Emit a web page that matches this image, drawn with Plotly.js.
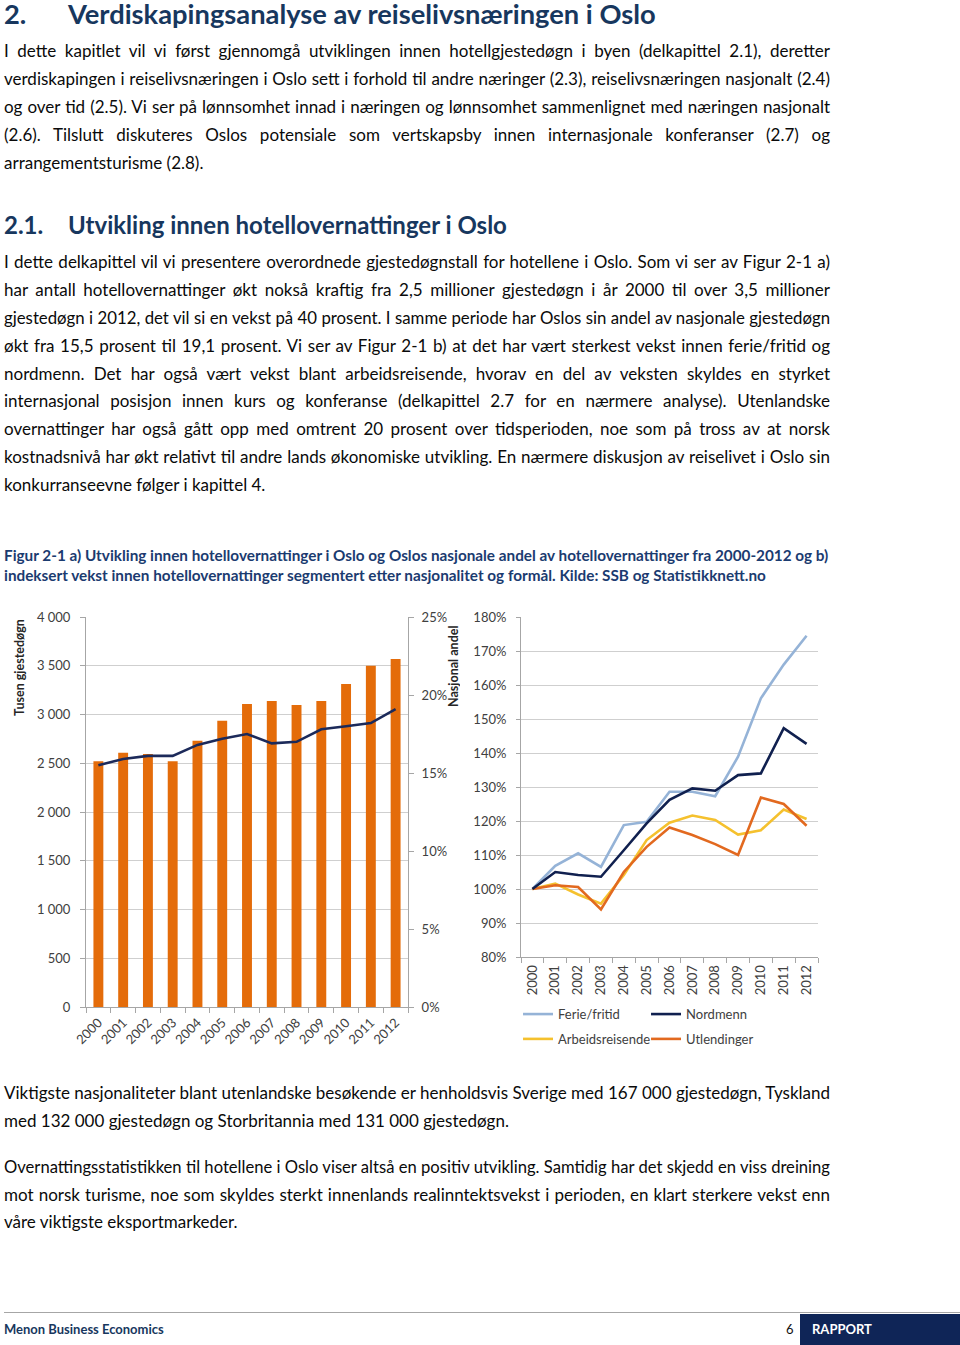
<!DOCTYPE html>
<html><head><meta charset="utf-8">
<script src="https://cdn.plot.ly/plotly-3.0.1.min.js"></script>
<style>
body{margin:0;background:#fff;}
#page{position:relative;width:960px;height:1345px;overflow:hidden;font-family:Lato,"Open Sans",sans-serif;color:#0a0a0a;background:#fff;}
.l{position:absolute;left:4px;width:826px;font-size:17px;line-height:28px;height:28px;text-align:justify;text-align-last:justify;}
.n{text-align-last:left;white-space:nowrap;}
.h1{position:absolute;left:4px;top:0;width:900px;height:28px;font-size:27.3px;font-weight:bold;color:#17375E;line-height:28px;}
.h2{position:absolute;left:4px;width:900px;height:28px;font-size:24px;font-weight:bold;color:#17375E;line-height:28px;}
.cap{position:absolute;left:4px;font-size:15.3px;font-weight:bold;color:#1B3B70;line-height:20px;white-space:nowrap;}
#chartA{position:absolute;left:0;top:600px;width:470px;height:460px;}
#chartB{position:absolute;left:460px;top:600px;width:360px;height:470px;}
.foot{position:absolute;font-size:13px;font-weight:bold;line-height:16px;}
</style></head>
<body><div id="page">
<div class="h1"><span style="position:absolute;left:0">2.</span><span style="position:absolute;left:64px;white-space:nowrap">Verdiskapingsanalyse av reiselivsnæringen i Oslo</span></div>

<div class="l" style="top:37px">I dette kapitlet vil vi først gjennomgå utviklingen innen hotellgjestedøgn i byen (delkapittel 2.1), deretter</div>
<div class="l" style="top:65px">verdiskapingen i reiselivsnæringen i Oslo sett i forhold til andre næringer (2.3), reiselivsnæringen nasjonalt (2.4)</div>
<div class="l" style="top:93px">og over tid (2.5). Vi ser på lønnsomhet innad i næringen og lønnsomhet sammenlignet med næringen nasjonalt</div>
<div class="l" style="top:121px">(2.6). Tilslutt diskuteres Oslos potensiale som vertskapsby innen internasjonale konferanser (2.7) og</div>
<div class="l n" style="top:149px">arrangementsturisme (2.8).</div>

<div class="h2" style="top:211px;"><span style="position:absolute;left:0">2.1.</span><span style="position:absolute;left:64px;white-space:nowrap">Utvikling innen hotellovernattinger i Oslo</span></div>

<div class="l" style="top:248px">I dette delkapittel vil vi presentere overordnede gjestedøgnstall for hotellene i Oslo. Som vi ser av Figur 2-1 a)</div>
<div class="l" style="top:276px">har antall hotellovernattinger økt nokså kraftig fra 2,5 millioner gjestedøgn i år 2000 til over 3,5 millioner</div>
<div class="l" style="top:304px">gjestedøgn i 2012, det vil si en vekst på 40 prosent. I samme periode har Oslos sin andel av nasjonale gjestedøgn</div>
<div class="l" style="top:332px">økt fra 15,5 prosent til 19,1 prosent. Vi ser av Figur 2-1 b) at det har vært sterkest vekst innen ferie/fritid og</div>
<div class="l" style="top:360px">nordmenn. Det har også vært vekst blant arbeidsreisende, hvorav en del av veksten skyldes en styrket</div>
<div class="l" style="top:387px">internasjonal posisjon innen kurs og konferanse (delkapittel 2.7 for en nærmere analyse). Utenlandske</div>
<div class="l" style="top:415px">overnattinger har også gått opp med omtrent 20 prosent over tidsperioden, noe som på tross av at norsk</div>
<div class="l" style="top:443px">kostnadsnivå har økt relativt til andre lands økonomiske utvikling. En nærmere diskusjon av reiselivet i Oslo sin</div>
<div class="l n" style="top:471px">konkurranseevne følger i kapittel 4.</div>

<div class="cap" style="top:545px">Figur 2-1 a) Utvikling innen hotellovernattinger i Oslo og Oslos nasjonale andel av hotellovernattinger fra 2000-2012 og b)</div>
<div class="cap" style="top:565px">indeksert vekst innen hotellovernattinger segmentert etter nasjonalitet og formål. Kilde: SSB og Statistikknett.no</div>

<div id="chartA"></div>
<div id="chartB"></div>

<div class="l" style="top:1079px">Viktigste nasjonaliteter blant utenlandske besøkende er henholdsvis Sverige med 167 000 gjestedøgn, Tyskland</div>
<div class="l n" style="top:1107px">med 132 000 gjestedøgn og Storbritannia med 131 000 gjestedøgn.</div>

<div class="l" style="top:1153px">Overnattingsstatistikken til hotellene i Oslo viser altså en positiv utvikling. Samtidig har det skjedd en viss dreining</div>
<div class="l" style="top:1181px">mot norsk turisme, noe som skyldes sterkt innenlands realinntektsvekst i perioden, en klart sterkere vekst enn</div>
<div class="l n" style="top:1208px">våre viktigste eksportmarkeder.</div>

<div style="position:absolute;left:4px;top:1312px;width:956px;height:1px;background:#A6A6A6"></div>
<div style="position:absolute;left:800px;top:1314px;width:160px;height:31px;background:#0F2557"></div>
<div class="foot" style="left:4px;top:1321px;color:#17375E">Menon Business Economics</div>
<div class="foot" style="left:786px;top:1321px;color:#111;font-weight:normal">6</div>
<div class="foot" style="left:812px;top:1321px;color:#fff">RAPPORT</div>
</div>
<script>
// keep each justified text line on a single line
document.querySelectorAll('.l').forEach(function(el){
  var fs = 17;
  while (el.scrollHeight > 32 && fs > 14) { fs -= 0.1; el.style.fontSize = fs + 'px'; }
});

// ---- Data: Figure 2-1 a)
const years = ['2000','2001','2002','2003','2004','2005','2006','2007','2008','2009','2010','2011','2012'];
const guestNights = [2520, 2608, 2595, 2520, 2732, 2937, 3108, 3138, 3097, 3138, 3313, 3501, 3569];
const nationalShare = [15.5, 15.9, 16.1, 16.1, 16.8, 17.2, 17.5, 16.9, 17.0, 17.8, 18.0, 18.2, 19.1];

// ---- Data: Figure 2-1 b) (index, 2000 = 100%)
const ferieFritid     = [100, 106.8, 110.5, 106.5, 118.8, 119.8, 128.6, 128.6, 127.3, 138.9, 156.1, 166.0, 174.5];
const nordmenn        = [100, 105.0, 104.1, 103.6, 111.4, 119.3, 126.2, 129.6, 128.9, 133.5, 134.0, 147.3, 142.7];
const arbeidsreisende = [100, 101.6, 98.4, 95.7, 104.1, 114.4, 119.5, 121.6, 120.3, 116.0, 117.3, 123.4, 120.6];
const utlendinger     = [100, 101.1, 100.6, 94.0, 105.0, 112.4, 118.1, 115.9, 113.2, 110.0, 126.9, 125.0, 118.6];

const FONT = 'Lato, "Open Sans", sans-serif';
const AX = '#A6A6A6', GRID = '#CFCFCF', TXT = '#404040';

Plotly.newPlot('chartA', [
  {type:'bar', x:years, y:guestNights, marker:{color:'#E46C0A'}, name:'Tusen gjestedøgn', hoverinfo:'skip'},
  {type:'scatter', mode:'lines', x:years, y:nationalShare, yaxis:'y2', line:{color:'#1C2A5A', width:2.6}, name:'Nasjonal andel', hoverinfo:'skip'}
], {
  width:470, height:460, margin:{l:86, r:62, t:17, b:53},
  paper_bgcolor:'#fff', plot_bgcolor:'#fff', showlegend:false,
  font:{family:FONT, size:13, color:TXT}, separators:', ', bargap:0.6,
  xaxis:{type:'category', tickangle:-45, showline:true, linecolor:AX, linewidth:1, ticks:'outside', tickson:'boundaries', ticklen:5, tickcolor:AX, showgrid:false, automargin:false, ticklabelstandoff:2},
  yaxis:{range:[0,4000], dtick:500, tickformat:',d', showline:true, linecolor:AX, ticks:'outside', ticklen:5, tickcolor:AX, gridcolor:GRID, zeroline:false, automargin:false, ticklabelstandoff:7},
  yaxis2:{overlaying:'y', side:'right', range:[0,25], dtick:5, ticksuffix:'%', showline:true, linecolor:AX, ticks:'outside', ticklen:5, tickcolor:AX, showgrid:false, zeroline:false, automargin:false, ticklabelstandoff:5},
  annotations:[
    {text:'<b>Tusen gjestedøgn</b>', xref:'paper', yref:'paper', x:-0.205, y:0.872, textangle:-90, showarrow:false, font:{size:12.5, color:'#262626'}, xanchor:'center', yanchor:'middle'},
    {text:'<b>Nasjonal andel</b>', xref:'paper', yref:'paper', x:1.143, y:0.872, textangle:-90, showarrow:false, font:{size:12.5, color:'#262626'}, xanchor:'center', yanchor:'middle'}
  ]
}, {displayModeBar:false, staticPlot:true});

Plotly.newPlot('chartB', [
  {type:'scatter', mode:'lines', x:years, y:ferieFritid, name:'Ferie/fritid', line:{color:'#95B3D7', width:2.6}, legend:'legend'},
  {type:'scatter', mode:'lines', x:years, y:arbeidsreisende, name:'Arbeidsreisende', line:{color:'#F5C12E', width:2.6}, legend:'legend2'},
  {type:'scatter', mode:'lines', x:years, y:utlendinger, name:'Utlendinger', line:{color:'#E2691F', width:2.6}, legend:'legend2'},
  {type:'scatter', mode:'lines', x:years, y:nordmenn, name:'Nordmenn', line:{color:'#10204F', width:2.6}, legend:'legend'}
], {
  width:360, height:470, margin:{l:61, r:2, t:17, b:113},
  paper_bgcolor:'#fff', plot_bgcolor:'#fff',
  font:{family:FONT, size:13, color:TXT},
  xaxis:{type:'category', range:[-0.5, 12.5], tickangle:-90, showline:true, linecolor:AX, ticks:'outside', tickson:'boundaries', ticklen:5, tickcolor:AX, showgrid:false, automargin:false, ticklabelstandoff:2},
  yaxis:{range:[80,180], dtick:10, ticksuffix:'%', showline:true, linecolor:AX, ticks:'outside', ticklen:4, tickcolor:AX, gridcolor:GRID, zeroline:false, automargin:false, ticklabelstandoff:7},
  legend:{orientation:'h', x:-0.01, xanchor:'left', y:-0.168, yanchor:'middle', traceorder:'normal', entrywidth:83, entrywidthmode:'pixels', font:{size:13, color:TXT}, bgcolor:'rgba(0,0,0,0)', itemwidth:30, tracegroupgap:0},
  legend2:{orientation:'h', x:-0.01, xanchor:'left', y:-0.241, yanchor:'middle', traceorder:'normal', entrywidth:83, entrywidthmode:'pixels', font:{size:13, color:TXT}, bgcolor:'rgba(0,0,0,0)', itemwidth:30, tracegroupgap:0}
}, {displayModeBar:false, staticPlot:true});
</script>
</body></html>
